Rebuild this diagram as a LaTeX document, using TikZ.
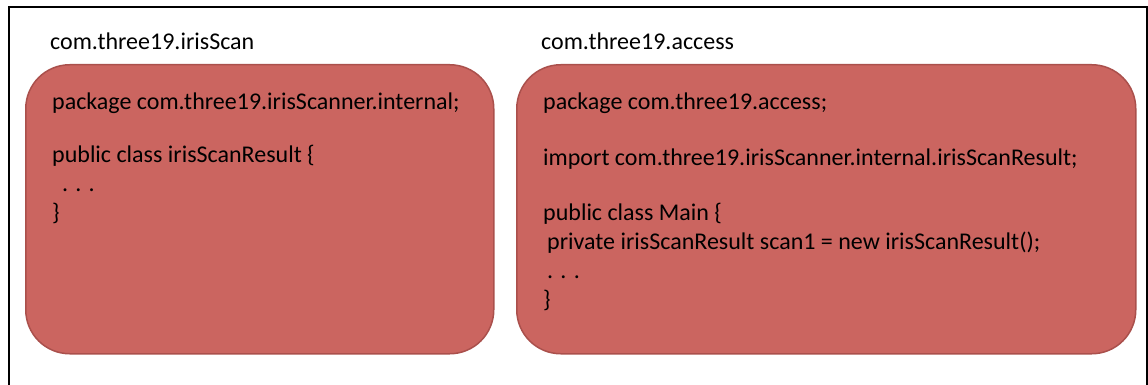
\documentclass[tikz,border=0pt]{standalone}
\usepackage{fontspec}
\setmainfont{Carlito}
\usetikzlibrary{positioning}
\definecolor{boxfill}{RGB}{203,101,96}
\definecolor{boxedge}{RGB}{170,80,76}

\begin{document}
\begin{tikzpicture}[x=1pt,y=-1pt,
    modulebox/.style ={rectangle, rounded corners=44pt, fill=boxfill, draw=boxedge,
                       line width=1.5pt, inner sep=0pt, anchor=north west},
    codetext/.style ={align=left, inner sep=0pt, font=\fontsize{24}{29}\selectfont},
    modulename/.style ={inner sep=0pt, font=\fontsize{24}{29}\selectfont}]
   \useasboundingbox (0,0) rectangle (1148,385);
   \draw[line width=2.5pt] (9,385) -- (9,7) -- (1147,7) -- (1147,385);
   % the two modules
   \node[modulebox, minimum width=468pt, minimum height=289pt] (scanbox) at (25,64) {};
   \node[modulebox, minimum width=619pt, minimum height=289pt] (accessbox) at (516,64) {};
   \node[modulename, above right=14pt and 25pt of scanbox.north west] (scanname) {com.three19.irisScan};
   \node[modulename, above right=14pt and 25pt of accessbox.north west] (accessname) {com.three19.access};
   % code inside them
   \node[codetext, below right=29pt and 27pt of scanbox.north west] (scancode)
      {package com.three19.irisScanner.internal;\\[24pt]
       public class irisScanResult \{\\
       \hspace*{10pt}. . .\\
       \}};
   \node[codetext, below right=29pt and 27pt of accessbox.north west] (accesscode)
      {package com.three19.access;\\[27pt]
       import com.three19.irisScanner.internal.irisScanResult;\\[26pt]
       public class Main \{\\
       \hspace*{4pt}private irisScanResult scan1 = new irisScanResult();\\
       \hspace*{4pt}. . .\\
       \}};
 \end{tikzpicture}
\end{document}
